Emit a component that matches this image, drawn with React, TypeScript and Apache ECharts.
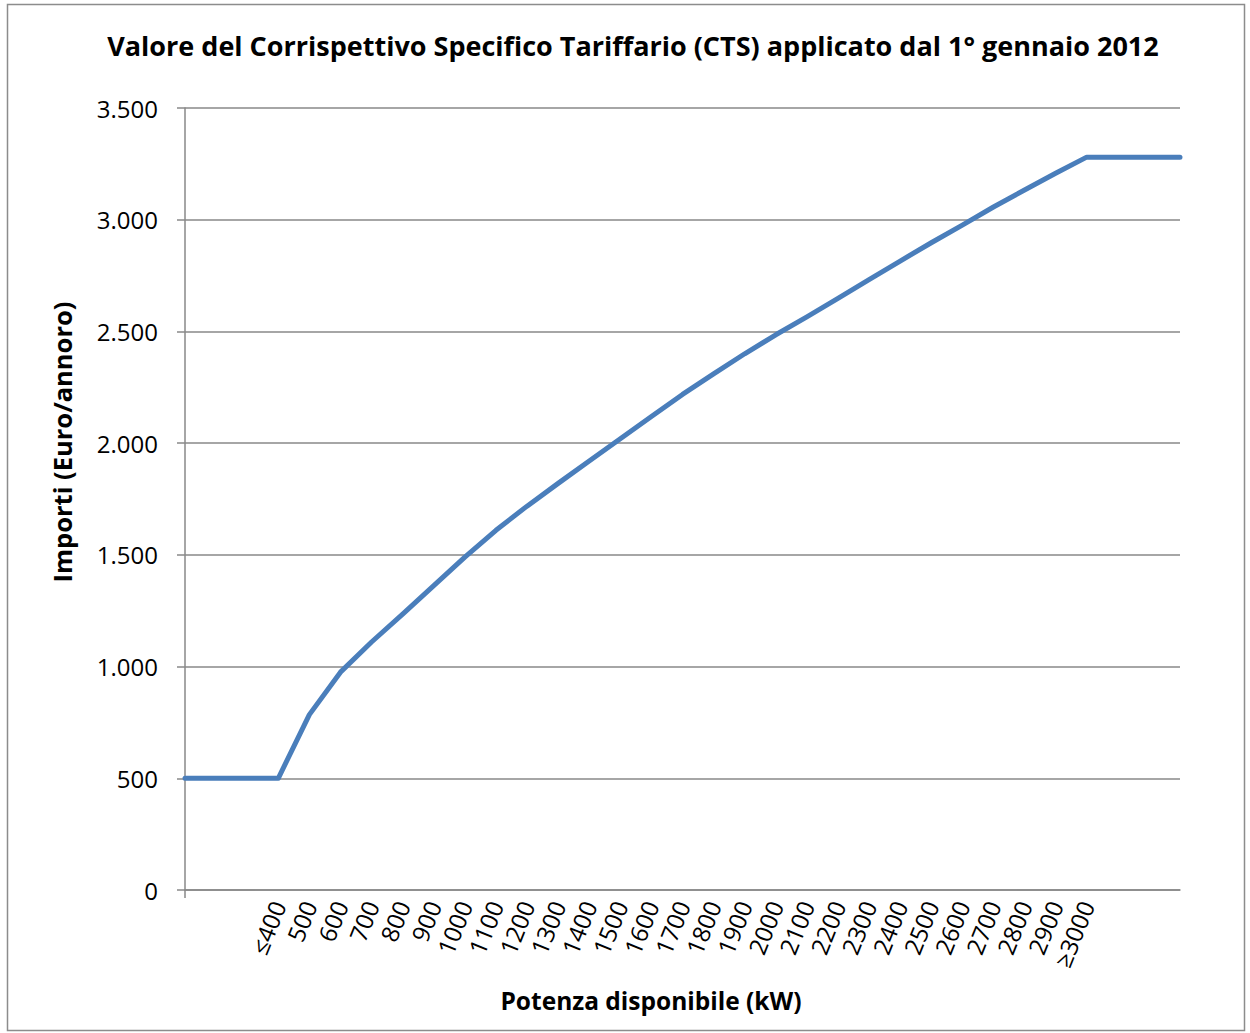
import React, { useEffect, useRef } from "react";
import * as echarts from "echarts";

const categories: string[] = [
  "", "", "",
  "≤400", "500", "600", "700", "800", "900", "1000", "1100", "1200", "1300", "1400",
  "1500", "1600", "1700", "1800", "1900", "2000", "2100", "2200", "2300", "2400",
  "2500", "2600", "2700", "2800", "2900", "≥3000",
  "", "", "",
];

const ctsValues: number[] = [
  500, 500, 500,
  500, 785, 975, 1110, 1235, 1362, 1490, 1610, 1718, 1820, 1920,
  2020, 2119, 2218, 2310, 2400, 2485, 2565, 2648, 2732, 2815,
  2897, 2976, 3057, 3133, 3208, 3280,
  3280, 3280, 3280,
];

const yTicks = { min: 0, max: 3500, interval: 500 };

const titleText = "Valore del Corrispettivo Specifico Tariffario (CTS) applicato dal 1° gennaio 2012";
const yName = "Importi (Euro/annoro)";
const xName = "Potenza disponibile (kW)";

const FONT = "'Open Sans', sans-serif";

export default function App() {
  const ref = useRef<HTMLDivElement>(null);
  useEffect(() => {
    if (!ref.current) return;
    const chart = echarts.init(ref.current, undefined, { renderer: "svg" });
    chart.setOption({
      animation: false,
      backgroundColor: "#ffffff",
      textStyle: { fontFamily: FONT },
      grid: { left: 185, right: 70, top: 108, bottom: 143, containLabel: false },
      graphic: [
        {
          type: "rect",
          shape: { x: 7.5, y: 4.5, width: 1237, height: 1026 },
          style: { fill: "none", stroke: "#8c8c8c", lineWidth: 1.5 },
          silent: true,
        },
        {
          type: "text",
          x: 633,
          y: 45,
          style: {
            text: titleText,
            font: `bold 27px ${FONT}`,
            fill: "#000",
            align: "center",
            verticalAlign: "middle",
          },
        },
        {
          type: "text",
          x: 62,
          y: 442,
          rotation: Math.PI / 2,
          style: {
            text: yName,
            font: `bold 25.5px ${FONT}`,
            fill: "#000",
            align: "center",
            verticalAlign: "middle",
          },
        },
        {
          type: "text",
          x: 651,
          y: 1000,
          style: {
            text: xName,
            font: `bold 24.5px ${FONT}`,
            fill: "#000",
            align: "center",
            verticalAlign: "middle",
          },
        },
      ],
      xAxis: {
        type: "category",
        data: categories,
        boundaryGap: false,
        axisLine: { show: true, lineStyle: { color: "#888", width: 1.5 } },
        axisTick: {
          show: true,
          length: 8,
          interval: (index: number) => index === 0,
          lineStyle: { color: "#888", width: 1.5 },
        },
        axisLabel: {
          interval: 0,
          rotate: 68,
          margin: 12,
          fontSize: 24,
          fontFamily: FONT,
          color: "#000",
        },
        splitLine: { show: false },
      },
      yAxis: {
        type: "value",
        min: yTicks.min,
        max: yTicks.max,
        interval: yTicks.interval,
        axisLine: { show: true, lineStyle: { color: "#888", width: 1.5 } },
        axisTick: { show: true, length: 8, lineStyle: { color: "#888", width: 1.5 } },
        axisLabel: {
          fontSize: 24,
          fontFamily: FONT,
          color: "#000",
          margin: 27,
          formatter: (v: number) => v.toString().replace(/\B(?=(\d{3})+(?!\d))/g, "."),
        },
        splitLine: { show: true, lineStyle: { color: "#888", width: 1.5 } },
      },
      series: [
        {
          type: "line",
          data: ctsValues,
          symbol: "none",
          lineStyle: { color: "#4a7ebb", width: 5, cap: "round", join: "round" },
        },
      ],
    });
    return () => chart.dispose();
  }, []);
  return (
    <div
      ref={ref}
      style={{ position: "absolute", left: 0, top: 0, width: 1250, height: 1033 }}
    />
  );
}
